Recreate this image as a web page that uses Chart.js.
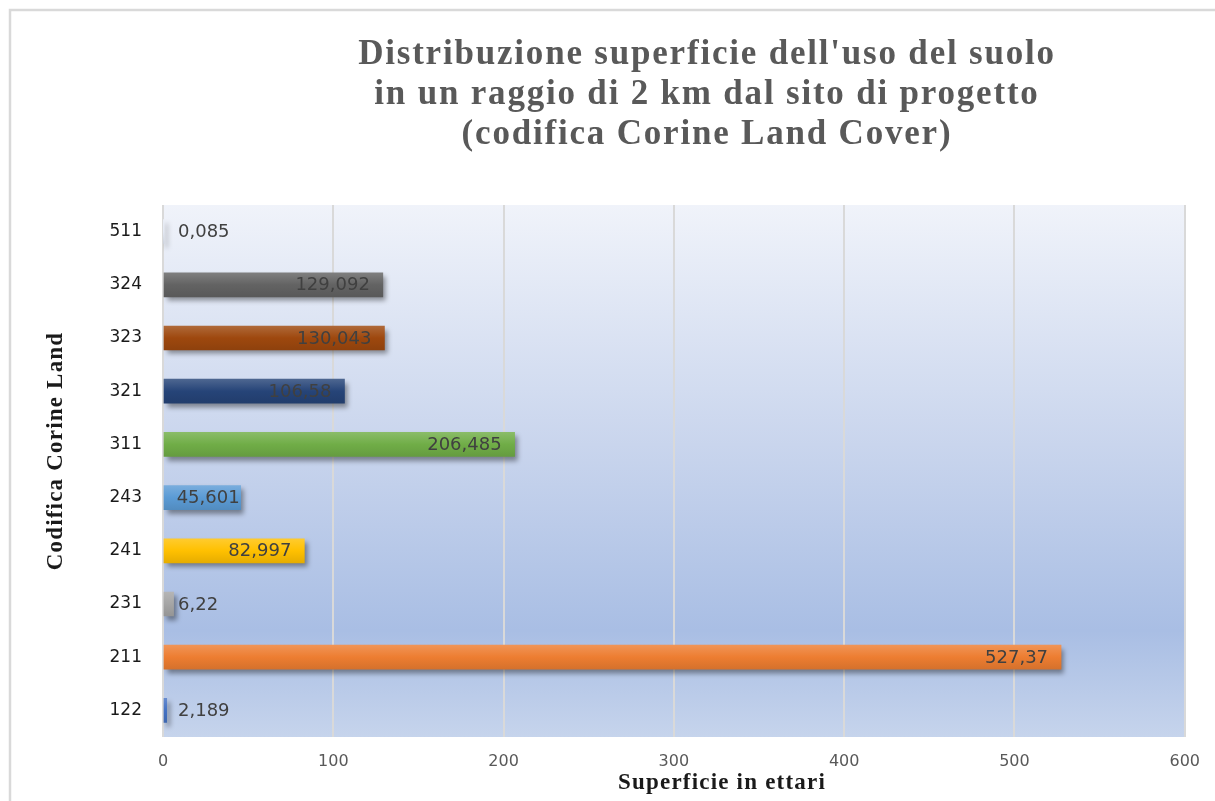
<!DOCTYPE html>
<html>
<head>
<meta charset="utf-8">
<script src="https://cdn.jsdelivr.net/npm/chart.js@4.4.1/dist/chart.umd.min.js"></script>
<style>
  html, body { margin: 0; padding: 0; background: #fff; }
  canvas { display: block; }
</style>
</head>
<body>
<canvas id="landChart" width="1215" height="801"></canvas>
<script>
// Corine Land Cover codes, top row first
var codes = ["511", "324", "323", "321", "311", "243", "241", "231", "211", "122"];
// surface per code, in hectares
var hectares = [0.085, 129.092, 130.043, 106.58, 206.485, 45.601, 82.997, 6.22, 527.37, 2.189];
var barColors = ["#e4e9f3", "#636363", "#9E480E", "#264478", "#70AD47", "#5B9BD5", "#FFC000", "#A5A5A5", "#ED7D31", "#4472C4"];
var xMin = 0, xMax = 600, xStep = 100;

var titleLines = [
  "Distribuzione superficie dell'uso del suolo",
  "in un raggio di 2 km dal sito di progetto",
  "(codifica Corine Land Cover)"
];
var xTitle = "Superficie in ettari";
var yTitle = "Codifica Corine Land";

// mix a hex colour toward white (amt > 0) or black (amt < 0)
function shade(hex, amt) {
  var n = parseInt(hex.slice(1), 16);
  var r = n >> 16, g = (n >> 8) & 255, b = n & 255;
  var t = amt < 0 ? 0 : 255, p = Math.abs(amt);
  r = Math.round(r + (t - r) * p);
  g = Math.round(g + (t - g) * p);
  b = Math.round(b + (t - b) * p);
  return "rgb(" + r + "," + g + "," + b + ")";
}

function fmt(v) {
  return String(v).replace(".", ",");
}

var BAR_H = 24;

// frame + gradient plot background
var backdrop = {
  id: "backdrop",
  beforeDraw: function (chart) {
    var ctx = chart.ctx, a = chart.chartArea;
    ctx.save();
    ctx.strokeStyle = "#d9d9d9";
    ctx.lineWidth = 2.5;
    ctx.beginPath();
    ctx.moveTo(10, chart.height);
    ctx.lineTo(10, 10);
    ctx.lineTo(chart.width, 10);
    ctx.stroke();

    var g = ctx.createLinearGradient(0, a.top, 0, a.bottom);
    g.addColorStop(0, "#f0f3fa");
    g.addColorStop(0.45, "#c9d5ed");
    g.addColorStop(0.8, "#a9bee4");
    g.addColorStop(1, "#c6d4ec");
    ctx.fillStyle = g;
    ctx.fillRect(a.left, a.top, a.right - a.left, a.bottom - a.top);
    ctx.restore();
  }
};

// soft drop shadow under the bars
var barShadow = {
  id: "barShadow",
  beforeDatasetDraw: function (chart) {
    var ctx = chart.ctx;
    ctx.save();
    ctx.shadowColor = "rgba(0,0,0,0.4)";
    ctx.shadowBlur = 5;
    ctx.shadowOffsetX = 3;
    ctx.shadowOffsetY = 4;
  },
  afterDatasetDraw: function (chart) {
    chart.ctx.restore();
  }
};

// value labels, inside the bar end when they fit
var valueLabels = {
  id: "valueLabels",
  afterDatasetsDraw: function (chart) {
    var ctx = chart.ctx, meta = chart.getDatasetMeta(0);
    ctx.save();
    ctx.font = "18px 'DejaVu Sans'";
    ctx.fillStyle = "#404040";
    ctx.textBaseline = "middle";
    meta.data.forEach(function (bar, i) {
      var text = fmt(hectares[i]);
      var w = ctx.measureText(text).width;
      var len = bar.x - bar.base;
      if (w + 4 < len) {
        ctx.textAlign = "right";
        var pad = (w + 26 < len) ? 13 : 1;
        ctx.fillText(text, bar.x - pad, bar.y + 1);
      } else {
        ctx.textAlign = "left";
        ctx.fillText(text, Math.max(bar.x + 3, bar.base + 14), bar.y + 1);
      }
    });
    ctx.restore();
  }
};

// chart title and axis titles
var titles = {
  id: "titles",
  afterDraw: function (chart) {
    var ctx = chart.ctx;
    ctx.save();
    ctx.fillStyle = "#595959";
    ctx.font = "bold 35px 'Liberation Serif'";
    ctx.letterSpacing = "1.8px";
    ctx.textAlign = "center";
    ctx.textBaseline = "alphabetic";
    var baselines = [64, 104, 144];
    titleLines.forEach(function (line, i) {
      ctx.fillText(line, 707, baselines[i]);
    });

    ctx.fillStyle = "#1a1a1a";
    ctx.font = "bold 23px 'Liberation Serif'";
    ctx.letterSpacing = "1.2px";
    ctx.fillText(xTitle, 722, 789);

    ctx.translate(62, 451);
    ctx.rotate(-Math.PI / 2);
    ctx.fillText(yTitle, 0, 0);
    ctx.restore();
  }
};

var ctx = document.getElementById("landChart").getContext("2d");
var landChart = new Chart(ctx, {
  type: "bar",
  data: {
    labels: codes,
    datasets: [
      {
        data: hectares,
        barThickness: BAR_H,
        borderWidth: 0,
        backgroundColor: function (c) {
          var chart = c.chart, base = barColors[c.dataIndex];
          var y = chart.scales.y;
          if (!chart.chartArea || !y || c.dataIndex === undefined) return base;
          var mid = y.getPixelForValue(c.dataIndex);
          var g = chart.ctx.createLinearGradient(0, mid - BAR_H / 2, 0, mid + BAR_H / 2);
          g.addColorStop(0, shade(base, 0.18));
          g.addColorStop(0.5, base);
          g.addColorStop(1, shade(base, -0.1));
          return g;
        }
      }
    ]
  },
  options: {
    indexAxis: "y",
    responsive: false,
    animation: false,
    layout: {
      padding: { left: 0, top: 205, right: 28, bottom: 0 }
    },
    plugins: {
      legend: { display: false },
      tooltip: { enabled: false }
    },
    scales: {
      x: {
        min: xMin,
        max: xMax,
        afterFit: function (s) { s.height = 64; },
        ticks: {
          stepSize: xStep,
          color: "#595959",
          font: { family: "'DejaVu Sans'", size: 16 },
          padding: 15
        },
        grid: { color: "#d9d9d9", lineWidth: 2, drawTicks: false },
        border: { display: false }
      },
      y: {
        afterFit: function (s) { s.width = 163; },
        ticks: {
          color: "#1a1a1a",
          font: { family: "'DejaVu Sans'", size: 17 },
          padding: 21
        },
        grid: { display: false, drawTicks: false },
        border: { display: false }
      }
    }
  },
  plugins: [backdrop, barShadow, valueLabels, titles]
});
</script>
</body>
</html>
